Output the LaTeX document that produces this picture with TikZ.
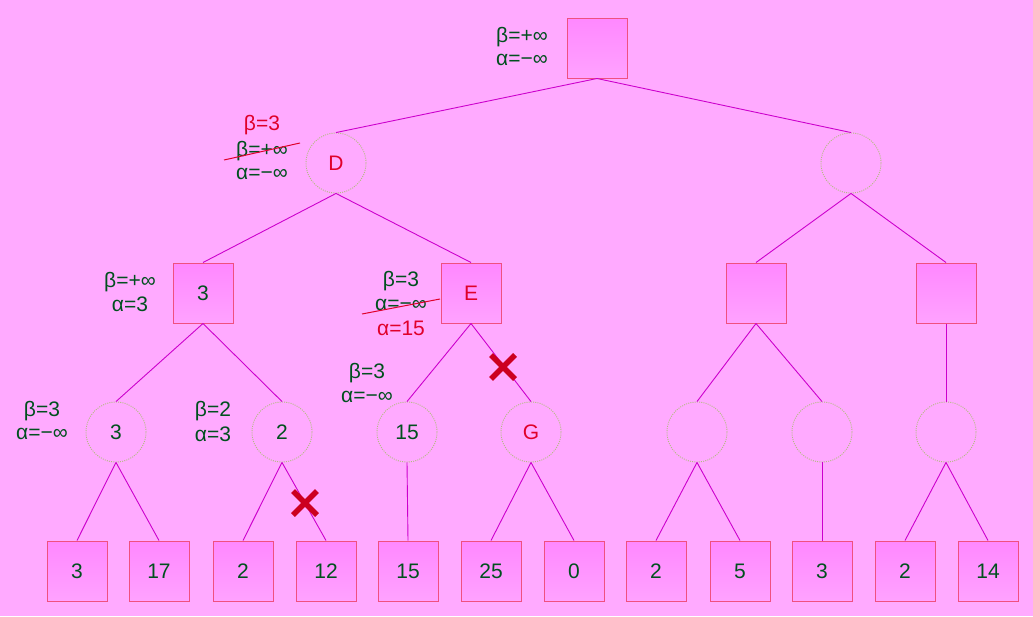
\documentclass[tikz,border=0pt]{standalone}
\usepackage{fontspec}
\setmainfont{Liberation Sans}
\definecolor{bg}{HTML}{FFAAFF}
\definecolor{boxtop}{HTML}{FF88FF}
\definecolor{boxbot}{HTML}{FFA2FF}
\definecolor{boxline}{HTML}{F05080}
\definecolor{circline}{HTML}{B4BC80}
\definecolor{edgec}{HTML}{CC00CC}
\definecolor{txtg}{HTML}{00501E}
\definecolor{txtr}{HTML}{E0002A}
\definecolor{crossc}{HTML}{CC0020}
\begin{document}
\begin{tikzpicture}[x=1pt,y=-1pt,
  every node/.style={font=\fontsize{21}{25}\selectfont, text=txtg},
  maxbox/.style={draw=boxline, line width=1pt, top color=boxtop, bottom color=boxbot, minimum size=60pt, inner sep=0pt},
  minc/.style={circle, draw=circline, dash pattern=on 1pt off 1.2pt, line width=0.9pt, minimum size=60pt, inner sep=0pt},
  edge/.style={draw=edgec, line width=0.9pt},
  lab/.style={inner sep=0pt, anchor=center},
  redlab/.style={lab, text=txtr},
  strike/.style={draw=txtr, line width=1pt},
  crossm/.style={draw=crossc, line width=5.5pt}
]
\fill[bg] (0,0) rectangle (1033,616);
\useasboundingbox (0,0) rectangle (1033,616);
% level 0
\node[maxbox] (r) at (597,48) {};
% level 1
\node[minc, text=txtr] (d) at (336,163) {D};
\node[minc] (rc) at (851,163) {};
% level 2
\node[maxbox] (s3) at (203,293) {3};
\node[maxbox, text=txtr] (e) at (471,293) {E};
\node[maxbox] (s5) at (756,293) {};
\node[maxbox] (s6) at (946,293) {};
% level 3
\node[minc] (c3) at (116,432) {3};
\node[minc] (c2) at (282,432) {2};
\node[minc] (c15) at (407,432) {15};
\node[minc, text=txtr] (g) at (531,432) {G};
\node[minc] (c5) at (697,432) {};
\node[minc] (c6) at (822,432) {};
\node[minc] (c7) at (946,432) {};
% leaves
\node[maxbox] (l1) at (77,571) {3};
\node[maxbox] (l2) at (159,571) {17};
\node[maxbox] (l3) at (243,571) {2};
\node[maxbox] (l4) at (326,571) {12};
\node[maxbox] (l5) at (408,571) {15};
\node[maxbox] (l6) at (491,571) {25};
\node[maxbox] (l7) at (574,571) {0};
\node[maxbox] (l8) at (656,571) {2};
\node[maxbox] (l9) at (740,571) {5};
\node[maxbox] (l10) at (822,571) {3};
\node[maxbox] (l11) at (905,571) {2};
\node[maxbox] (l12) at (988,571) {14};
% edges
\foreach \a/\b in {r/d, r/rc, d/s3, d/e, rc/s5, rc/s6, s3/c3, s3/c2, e/c15, e/g, s5/c5, s5/c6, s6/c7,
  c3/l1, c3/l2, c2/l3, c2/l4, c15/l5, g/l6, g/l7, c5/l8, c5/l9, c6/l10, c7/l11, c7/l12}
  \draw[edge] (\a.south) -- (\b.north);
% labels
\node[lab] (rb) at (522,37) {β=+∞};
\node[lab] (ra) at (522,60) {α=−∞};
\node[redlab] (db2) at (262,125) {β=3};
\node[lab] (db) at (262,151) {β=+∞};
\node[lab] (da) at (262,174) {α=−∞};
\coordinate (ds1) at (224,160);
\coordinate (ds2) at (300,143);
\draw[strike] (ds1) -- (ds2);
\node[lab] (s3b) at (130,282) {β=+∞};
\node[lab] (s3a) at (130,304) {α=3};
\node[lab] (eb) at (401,281) {β=3};
\node[lab] (ea) at (401,305) {α=−∞};
\coordinate (es1) at (362,314);
\coordinate (es2) at (440,299);
\draw[strike] (es1) -- (es2);
\node[redlab] (ea2) at (401,328) {α=15};
\node[lab] (c15b) at (367,373) {β=3};
\node[lab] (c15a) at (367,397) {α=−∞};
\node[lab] (c3b) at (42,411) {β=3};
\node[lab] (c3a) at (42,434) {α=−∞};
\node[lab] (c2b) at (213,411) {β=2};
\node[lab] (c2a) at (213,434) {α=3};
% crosses
\coordinate (x1) at (503,367);
\coordinate (x2) at (305,503);
\draw[crossm] ([shift={(-12,-12)}]x1) -- ([shift={(12,12)}]x1);
\draw[crossm] ([shift={(-12,12)}]x1) -- ([shift={(12,-12)}]x1);
\draw[crossm] ([shift={(-12,-12)}]x2) -- ([shift={(12,12)}]x2);
\draw[crossm] ([shift={(-12,12)}]x2) -- ([shift={(12,-12)}]x2);
\end{tikzpicture}
\end{document}
